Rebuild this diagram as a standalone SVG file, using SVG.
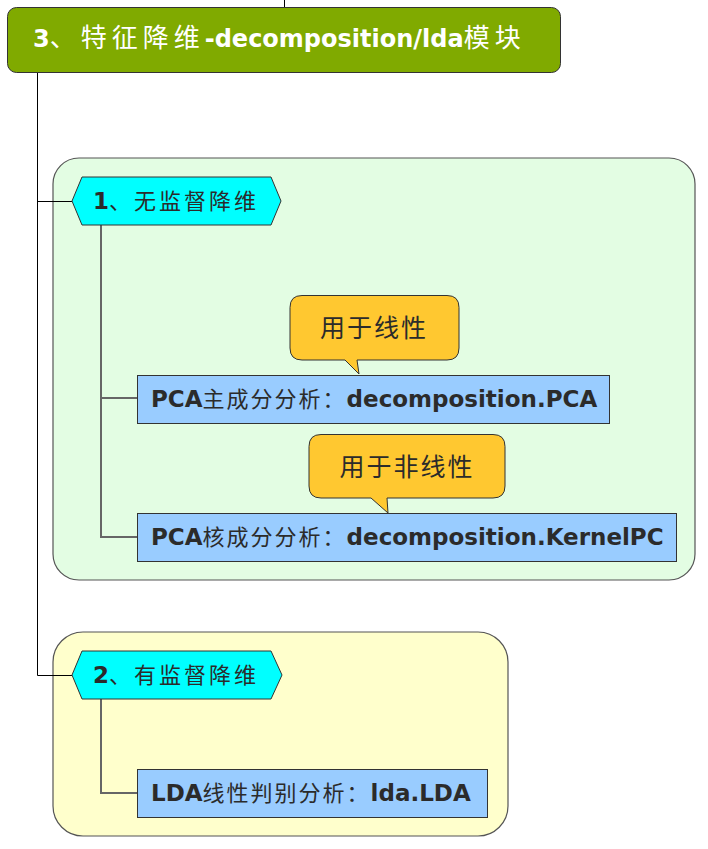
<svg xmlns="http://www.w3.org/2000/svg" width="708" height="849" viewBox="0 0 708 849">
<style>
.t{font-family:"DejaVu Sans","Noto Sans CJK SC",sans-serif;font-weight:bold;fill:#2b2b2b}
.cj{font-family:"Noto Sans CJK SC",sans-serif;font-weight:normal}
.bc{font-size:22px;letter-spacing:2px}
.title{font-size:24px;fill:#ffffff}
.hex{fill:#00ffff;stroke:#333;stroke-width:1}
.box{fill:#99ccff;stroke:#333;stroke-width:1}
.call{fill:#ffc830;stroke:#333;stroke-width:1}
.ln{fill:none;stroke:#000;stroke-width:1}
.ln2{fill:none;stroke:#666;stroke-width:2}
</style>
<rect width="708" height="849" fill="#ffffff"/>
<g id="containers">
<rect x="53" y="158" width="642" height="422" rx="26" fill="#e3fde3" stroke="#555" stroke-width="1.2"/>
<rect x="53" y="632" width="455" height="204" rx="30" fill="#ffffcc" stroke="#555" stroke-width="1.2"/>
</g>
<g id="connectors">
<path class="ln" d="M284.5 0V7"/>
<path class="ln" d="M37.5 72V675.5H72M37.5 201.5H72"/>
<path class="ln2" d="M101 225V398H137M101 398V537H137"/>
<path class="ln2" d="M101 699V793H137"/>
</g>
<g id="title">
<rect x="7.5" y="7.5" width="553" height="65" rx="9" fill="#80aa00" stroke="#333" stroke-width="1"/>
<text class="t title" x="33" y="47">3<tspan class="cj" font-size="26" letter-spacing="5">、特征降维</tspan>-decomposition/lda<tspan class="cj" font-size="26" letter-spacing="5">模块</tspan></text>
</g>
<g id="hex1">
<polygon class="hex" points="72,201 82,177 271,177 281,201 271,225 82,225"/>
<text class="t" font-size="23" x="93" y="209">1<tspan class="cj" font-size="22" letter-spacing="3">、无监督降维</tspan></text>
</g>
<g id="pca">
<rect class="box" x="137.5" y="375.5" width="472" height="48"/>
<text class="t" font-size="23" x="151" y="407">PCA<tspan class="cj bc">主成分分析：</tspan>decomposition.PCA</text>
</g>
<g id="note1">
<path class="call" d="M302 295.5H447Q459 295.5 459 307.5V348Q459 360 447 360H357L359 374L345 360H302Q290 360 290 348V307.5Q290 295.5 302 295.5Z"/>
<text class="t cj" font-size="25" x="374" y="337" text-anchor="middle" letter-spacing="2">用于线性</text>
</g>
<g id="kpca">
<rect class="box" x="137.5" y="513.5" width="539" height="48"/>
<text class="t" font-size="23" x="151" y="545">PCA<tspan class="cj bc">核成分分析：</tspan>decomposition.KernelPC</text>
</g>
<g id="note2">
<path class="call" d="M321 434.5H493Q505 434.5 505 446.5V486Q505 498 493 498H387L388 513L371 498H321Q309 498 309 486V446.5Q309 434.5 321 434.5Z"/>
<text class="t cj" font-size="25" x="407" y="476" text-anchor="middle" letter-spacing="2">用于非线性</text>
</g>
<g id="hex2">
<polygon class="hex" points="72,675 82,651 271,651 282,675 271,699 82,699"/>
<text class="t" font-size="23" x="93" y="683">2<tspan class="cj" font-size="22" letter-spacing="3">、有监督降维</tspan></text>
</g>
<g id="lda">
<rect class="box" x="137.5" y="769.5" width="350" height="48"/>
<text class="t" font-size="23" x="151" y="801">LDA<tspan class="cj bc">线性判别分析：</tspan>lda.LDA</text>
</g>
</svg>
